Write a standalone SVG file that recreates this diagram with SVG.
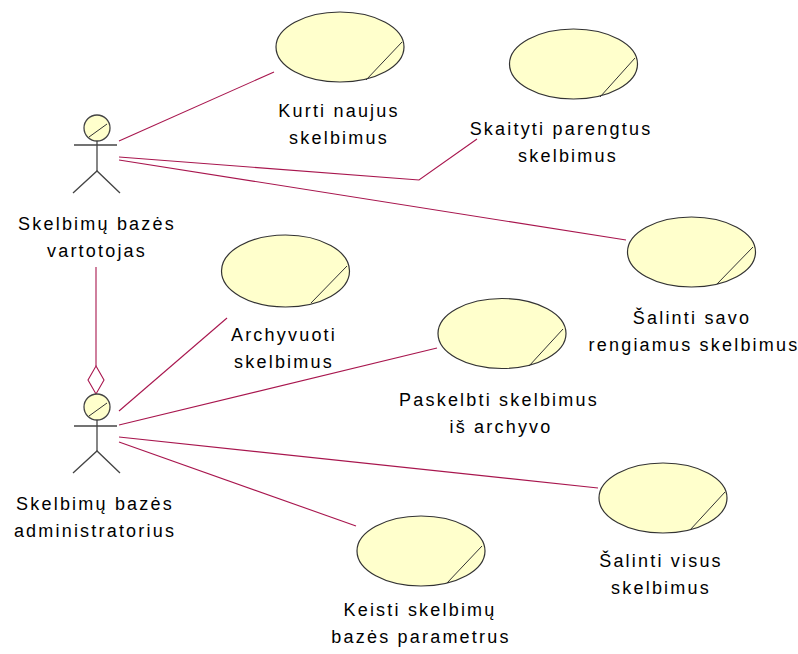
<svg xmlns="http://www.w3.org/2000/svg" width="798" height="654" viewBox="0 0 798 654">
<style>
.uc{fill:#FFFFCC;stroke:#333;stroke-width:1.2}
.sl{stroke:#333;stroke-width:1;fill:none}
.ac{stroke:#444;stroke-width:1.3;fill:none}
.hd{fill:#FFFFCC;stroke:#444;stroke-width:1.3}
.cn{stroke:#A8164E;stroke-width:1.1;fill:none}
text{font-family:"Liberation Sans",Arial,sans-serif;font-size:18px;fill:#000;text-anchor:middle;letter-spacing:2.2px}
</style>
<rect width="798" height="654" fill="#fff"/>
<g id="connectors">
<line class="cn" x1="119" y1="141" x2="274" y2="72"/>
<polyline class="cn" points="119,157 419,180 477,139"/>
<line class="cn" x1="119" y1="160" x2="626" y2="240"/>
<polyline class="cn" points="96,267 96,366"/>
<polygon class="cn" points="96,366 104,380 96,394 88,380" fill="#fff"/>
<line class="cn" x1="119" y1="411" x2="227" y2="318"/>
<line class="cn" x1="119" y1="425" x2="437" y2="348"/>
<line class="cn" x1="119" y1="437" x2="598" y2="488"/>
<line class="cn" x1="119" y1="442" x2="356" y2="526"/>
</g>
<g id="actor-vartotojas">
<circle class="hd" cx="97" cy="128" r="13"/>
<line class="sl" x1="89" y1="137" x2="107" y2="124"/>
<line class="ac" x1="74" y1="145" x2="117" y2="145"/>
<line class="ac" x1="97" y1="141" x2="97" y2="171"/>
<polyline class="ac" points="73,193 97,171 120,193"/>
<text x="97" y="230">Skelbimų bazės</text>
<text x="97" y="257">vartotojas</text>
</g>
<g id="actor-admin">
<circle class="hd" cx="97" cy="407" r="13"/>
<line class="sl" x1="89" y1="416" x2="107" y2="403"/>
<line class="ac" x1="74" y1="426" x2="117" y2="426"/>
<line class="ac" x1="97" y1="420" x2="97" y2="451"/>
<polyline class="ac" points="73,473 97,451 120,473"/>
<text x="95" y="510">Skelbimų bazės</text>
<text x="95" y="537">administratorius</text>
</g>
<g id="uc-kurti">
<ellipse class="uc" cx="340" cy="47" rx="64" ry="35"/>
<line class="sl" x1="402" y1="42" x2="366" y2="80"/>
<text x="339" y="117">Kurti naujus</text>
<text x="339" y="144">skelbimus</text>
</g>
<g id="uc-skaityti">
<ellipse class="uc" cx="573.5" cy="64" rx="64" ry="35"/>
<line class="sl" x1="635" y1="58" x2="600" y2="97"/>
<text x="561" y="135">Skaityti parengtus</text>
<text x="568" y="162">skelbimus</text>
</g>
<g id="uc-salinti-savo">
<ellipse class="uc" cx="691.5" cy="252" rx="64" ry="35"/>
<line class="sl" x1="753" y1="247" x2="717" y2="284"/>
<text x="692" y="324">Šalinti savo</text>
<text x="694" y="351">rengiamus skelbimus</text>
</g>
<g id="uc-archyvuoti">
<ellipse class="uc" cx="285.5" cy="271" rx="64" ry="36"/>
<line class="sl" x1="347" y1="266" x2="311" y2="303"/>
<text x="284" y="341">Archyvuoti</text>
<text x="284" y="368">skelbimus</text>
</g>
<g id="uc-paskelbti">
<ellipse class="uc" cx="502" cy="333.5" rx="64" ry="35"/>
<line class="sl" x1="563" y1="329" x2="529" y2="366"/>
<text x="499" y="406">Paskelbti skelbimus</text>
<text x="501" y="433">iš archyvo</text>
</g>
<g id="uc-salinti-visus">
<ellipse class="uc" cx="663" cy="498" rx="64" ry="35"/>
<line class="sl" x1="725" y1="492" x2="690" y2="530"/>
<text x="661" y="567">Šalinti visus</text>
<text x="661" y="594">skelbimus</text>
</g>
<g id="uc-keisti">
<ellipse class="uc" cx="421" cy="551" rx="64" ry="35"/>
<line class="sl" x1="482" y1="546" x2="447" y2="583"/>
<text x="420" y="616">Keisti skelbimų</text>
<text x="421" y="643">bazės parametrus</text>
</g>
</svg>
